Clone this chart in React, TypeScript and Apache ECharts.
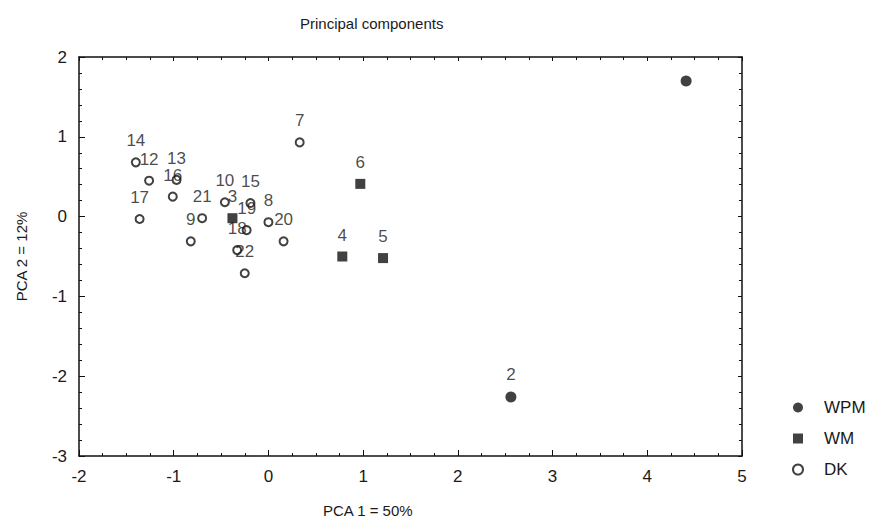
import React, { useEffect, useRef } from "react";
import * as echarts from "echarts";

const xTicks = [-2, -1, 0, 1, 2, 3, 4, 5];
const yTicks = [-3, -2, -1, 0, 1, 2];

const wpmLabels = ["", "2"];
const wpmX = [4.41, 2.56];
const wpmY = [1.7, -2.26];

const wmLabels = ["3", "4", "5", "6"];
const wmX = [-0.38, 0.78, 1.21, 0.97];
const wmY = [-0.02, -0.5, -0.52, 0.41];

const dkLabels = ["7", "8", "9", "10", "12", "13", "14", "15", "16", "17", "18", "19", "20", "21", "22"];
const dkX = [0.33, 0.0, -0.82, -0.46, -1.26, -0.97, -1.4, -0.19, -1.01, -1.36, -0.33, -0.23, 0.16, -0.7, -0.25];
const dkY = [0.93, -0.07, -0.31, 0.18, 0.45, 0.46, 0.68, 0.17, 0.25, -0.03, -0.42, -0.17, -0.31, -0.02, -0.71];

const FONT = "Liberation Sans, Arial, sans-serif";
const INK = "#111";

function pts(xs: number[], ys: number[], names: string[]) {
  return xs.map((x, i) => ({ value: [x, ys[i]], name: names[i] }));
}

export default function App() {
  const ref = useRef<HTMLDivElement>(null);
  useEffect(() => {
    document.body.style.margin = "0";
    if (!ref.current) return;
    const chart = echarts.init(ref.current, null, { renderer: "svg" });
    const label = {
      show: true,
      position: "top" as const,
      distance: 8,
      formatter: (p: any) => p.name,
      fontFamily: FONT,
      fontSize: 17,
      color: "#1a1a1a",
      textBorderWidth: 0,
    };
    const baseX = {
      type: "value" as const,
      min: xTicks[0],
      max: xTicks[xTicks.length - 1],
      interval: 1,
      splitLine: { show: false },
      axisLine: { show: true, onZero: false, lineStyle: { color: INK, width: 1.5 } },
      minorTick: { show: true, splitNumber: 4, length: 3, lineStyle: { color: INK } },
    };
    const baseY = {
      type: "value" as const,
      min: yTicks[0],
      max: yTicks[yTicks.length - 1],
      interval: 1,
      splitLine: { show: false },
      axisLine: { show: true, onZero: false, lineStyle: { color: INK, width: 1.5 } },
      minorTick: { show: true, splitNumber: 5, length: 3, lineStyle: { color: INK } },
    };
    chart.setOption({
      animation: false,
      backgroundColor: "#fff",
      color: [INK, INK, INK],
      title: {
        text: "Principal components",
        left: 295,
        top: 11,
        textStyle: { fontFamily: FONT, fontSize: 15, fontWeight: "normal", color: "#1a1a1a" },
      },
      grid: { left: 79, right: 130, top: 57, bottom: 71 },
      xAxis: [
        {
          ...baseX,
          position: "bottom",
          axisTick: { show: true, inside: true, length: 6, lineStyle: { color: INK } },
          axisLabel: { margin: 12, fontFamily: FONT, fontSize: 17, color: "#1a1a1a" },
        },
        {
          ...baseX,
          position: "top",
          axisTick: { show: true, inside: true, length: 4, lineStyle: { color: INK } },
          axisLabel: { show: false },
        },
      ],
      yAxis: [
        {
          ...baseY,
          position: "left",
          name: "PCA 2 = 12%",
          nameLocation: "middle",
          nameGap: 50,
          nameTextStyle: { fontFamily: FONT, fontSize: 15, color: "#1a1a1a" },
          axisTick: { show: true, inside: true, length: 6, lineStyle: { color: INK } },
          axisLabel: { margin: 12, fontFamily: FONT, fontSize: 17, color: "#1a1a1a" },
        },
        {
          ...baseY,
          position: "right",
          axisTick: { show: true, inside: true, length: 4, lineStyle: { color: INK } },
          axisLabel: { show: false },
        },
      ],
      graphic: [
        {
          type: "text",
          left: 323,
          top: 503,
          style: { text: "PCA 1 = 50%", font: `15px ${FONT}`, fill: "#1a1a1a" },
        },
      ],
      legend: {
        orient: "vertical",
        left: 787,
        top: 394,
        itemGap: 14,
        itemWidth: 10,
        itemHeight: 10,
        textStyle: { fontFamily: FONT, fontSize: 17, color: "#1a1a1a", padding: [0, 0, 0, 16] },
        data: ["WPM", "WM", "DK"],
      },
      series: [
        {
          name: "WPM",
          type: "scatter",
          symbol: "circle",
          symbolSize: 11,
          itemStyle: { color: INK },
          label,
          data: pts(wpmX, wpmY, wpmLabels),
        },
        {
          name: "WM",
          type: "scatter",
          symbol: "rect",
          symbolSize: 10,
          itemStyle: { color: INK },
          label,
          data: pts(wmX, wmY, wmLabels),
        },
        {
          name: "DK",
          type: "scatter",
          symbol: "emptyCircle",
          symbolSize: 8,
          itemStyle: { color: INK, borderWidth: 1.5 },
          label,
          data: pts(dkX, dkY, dkLabels),
        },
      ],
    });
    return () => chart.dispose();
  }, []);
  return <div ref={ref} style={{ width: 872, height: 527 }} />;
}
